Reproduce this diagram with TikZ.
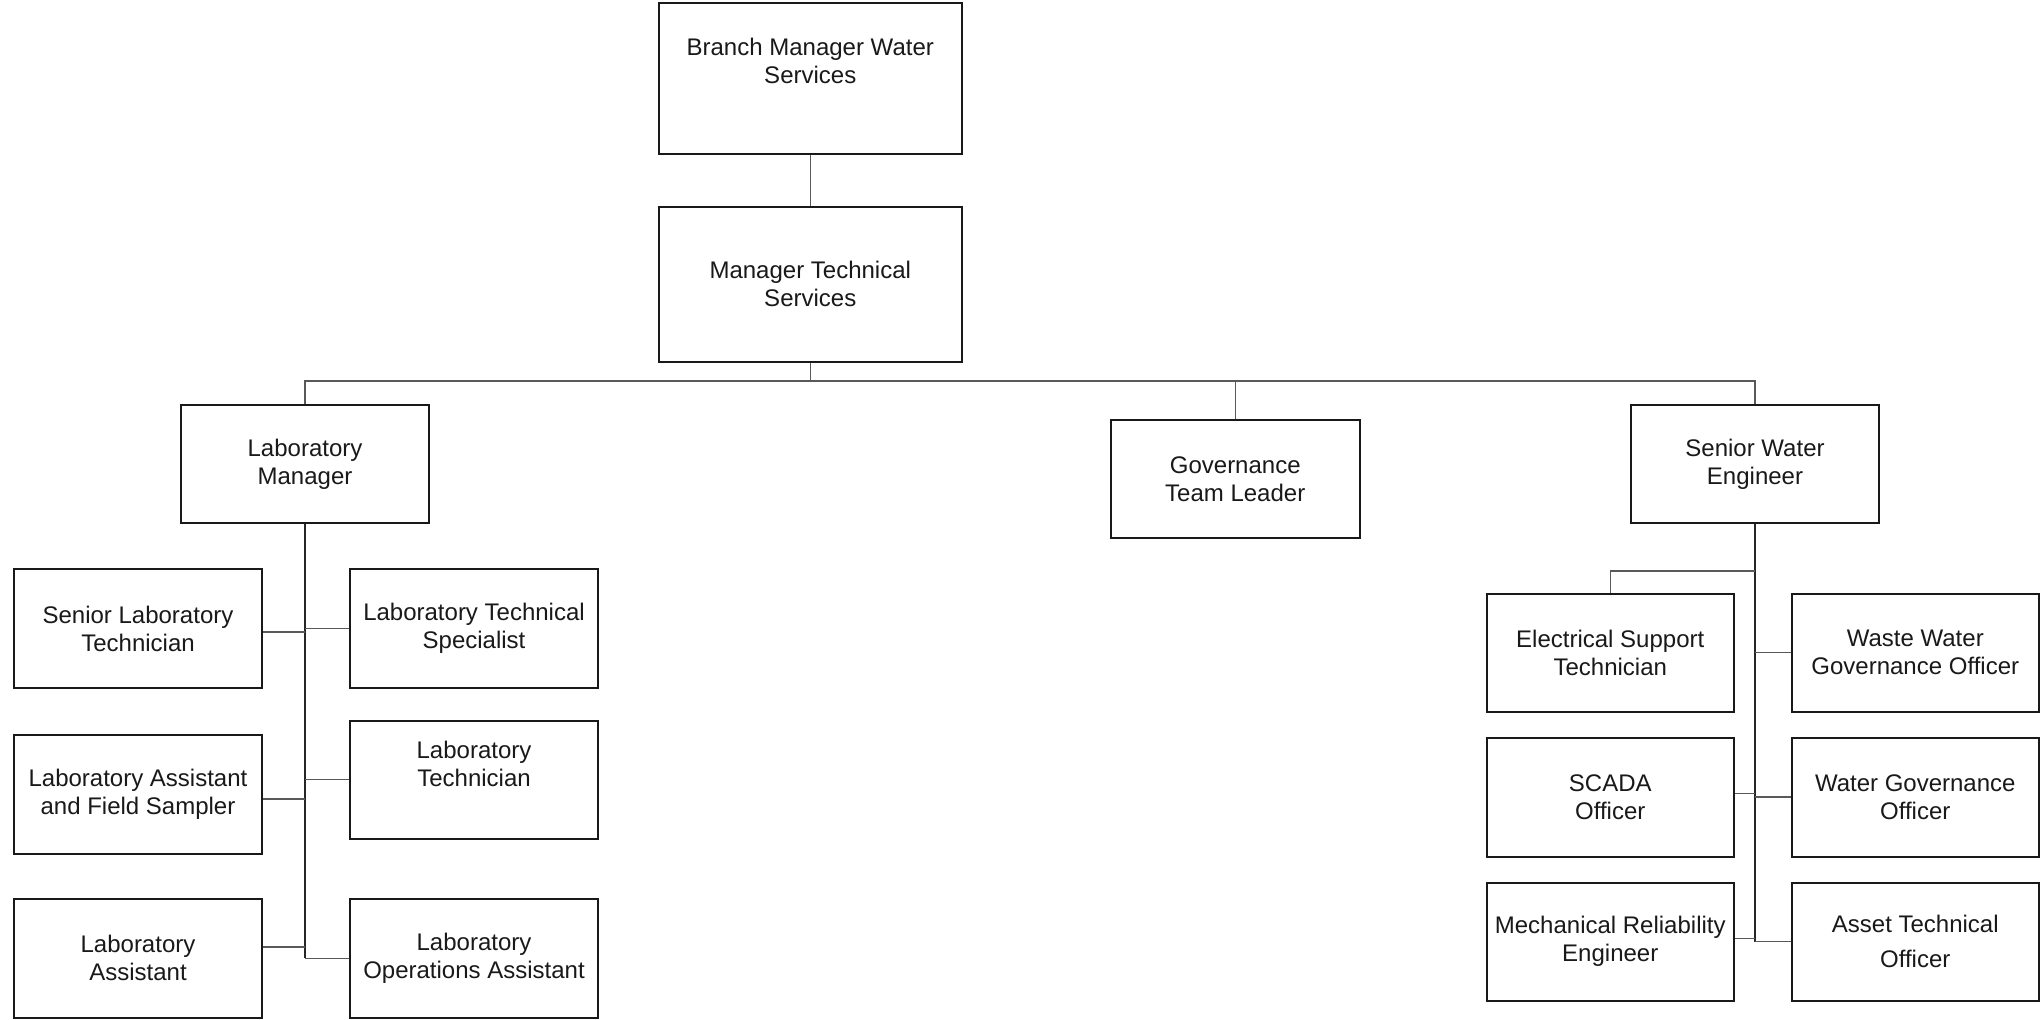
\documentclass[tikz,border=0pt]{standalone}
\usepackage{fontspec}
\setmainfont{Liberation Sans}
\usetikzlibrary{calc}

% one unit = one pixel of a 2043 x 1019 canvas, y grows downwards
\tikzset{
  orgbox/.style={draw=black!90, line width=1pt, rectangle, inner sep=0pt,
    align=center, font=\fontsize{12}{14}\selectfont, text=black!90},
  link/.style={draw=black!65, line width=0.55pt},
  trunk/.style={draw=black!85, line width=0.8pt},
}
\newcommand\orgnode[6]{%
  \node[orgbox, minimum width={#4*0.5pt}, minimum height={#5*0.5pt}]
    (#1) at (#2,#3) {#6};}

\begin{document}
\begin{tikzpicture}[x=0.5pt, y=-0.5pt]
\useasboundingbox[fill=white] (0,0) rectangle (2043,1019);

% top of the hierarchy
\orgnode{branch}{810.25}{78.5}{302.5}{151}{Branch Manager Water\\Services\\[4pt]\mbox{}}
\orgnode{mts}{810.25}{284}{302.5}{155}{Manager Technical\\Services}

% second level
\orgnode{lm}{305}{464}{248}{118}{Laboratory\\Manager}
\orgnode{gov}{1235.25}{479}{248.5}{118}{Governance\\Team Leader}
\orgnode{swe}{1755}{464}{248}{118}{Senior Water\\Engineer}

% laboratory team
\orgnode{slt}{138}{628.5}{248}{119}{Senior Laboratory\\Technician}
\orgnode{lafs}{138}{794.25}{248}{118.5}{Laboratory Assistant\\and Field Sampler}
\orgnode{la}{138}{958.25}{248}{118.5}{Laboratory\\Assistant}
\orgnode{lts}{474}{628.5}{248}{119}{Laboratory Technical\\Specialist}
\orgnode{lt}{474}{779.5}{248}{118}{Laboratory\\Technician\\[1.5pt]\mbox{}}
\orgnode{loa}{474}{958.25}{248}{118.5}{Laboratory\\Operations Assistant}

% water engineering team
\orgnode{est}{1610.25}{652.5}{247.5}{118}{Electrical Support\\Technician}
\orgnode{scada}{1610.25}{797}{247.5}{119}{SCADA\\Officer}
\orgnode{mre}{1610.25}{941.75}{247.5}{118.5}{Mechanical Reliability\\Engineer}
\orgnode{wwgo}{1915.25}{652.5}{247.5}{118}{Waste Water\\Governance Officer}
\orgnode{wgo}{1915.25}{797}{247.5}{119}{Water Governance\\Officer}
\orgnode{ato}{1915.25}{941.75}{247.5}{118.5}{Asset Technical\\[3.5pt]Officer}

% upper connectors
\draw[link] (branch.south) -- (mts.north);
\draw[link] (mts.south) -- ++(0,18.5) coordinate (bus);
\draw[link] (bus) -| (lm.north);
\draw[link] (bus) -| (gov.north);
\draw[link] (bus) -| (swe.north);

% laboratory branch
\draw[trunk] (lm.south) -- (lm.south |- loa.west);
\draw[link] ($(slt.east)+(0,3.5)$) -- ($(slt.east -| lm.south)+(0,3.5)$);
\draw[link] (lts.west) -- (lts.west -| lm.south);
\draw[link] ($(lafs.east)+(0,4.75)$) -- ($(lafs.east -| lm.south)+(0,4.75)$);
\draw[link] (lt.west) -- (lt.west -| lm.south);
\draw[link] ($(la.east)+(0,-11.25)$) -- ($(la.east -| lm.south)+(0,-11.25)$);
\draw[link] (loa.west) -- (loa.west -| lm.south);

% engineering branch
\draw[trunk] (swe.south) -- (swe.south |- ato.west);
\draw[link] ($(swe.south)+(0,47)$) -| (est.north);
\draw[link] (wwgo.west) -- (wwgo.west -| swe.south);
\draw[link] ($(scada.east)+(0,-3.7)$) -- ($(scada.east -| swe.south)+(0,-3.7)$);
\draw[link] (wgo.west) -- (wgo.west -| swe.south);
\draw[link] ($(mre.east)+(0,-3.5)$) -- ($(mre.east -| swe.south)+(0,-3.5)$);
\draw[link] (ato.west) -- (ato.west -| swe.south);
\end{tikzpicture}
\end{document}
